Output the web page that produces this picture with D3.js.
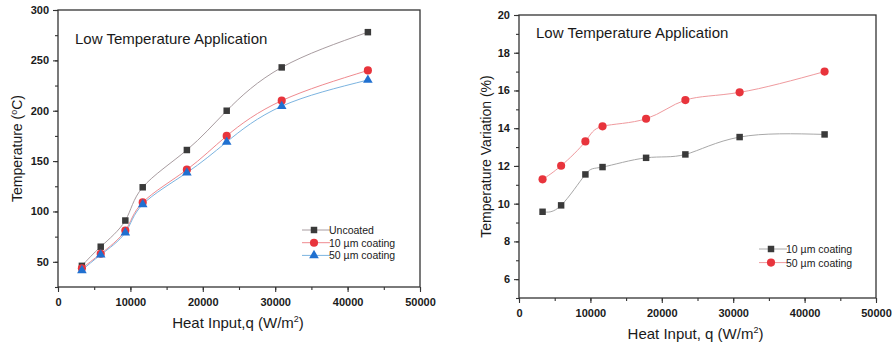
<!DOCTYPE html>
<html lang="en">
<head>
    <meta charset="UTF-8">
    <title>Low Temperature Application</title>
    <script src="https://cdnjs.cloudflare.com/ajax/libs/d3/7.8.5/d3.min.js"></script>
    <style>
        body { margin: 0; background: #fff; }
        text { font-family: "Liberation Sans", Arial, sans-serif; fill: #1a1a1a; }
    </style>
</head>
<body>
<script type="text/javascript">
    // heat input (W/m2), shared by both panels
    var heatInput = [3300, 5900, 9300, 11700, 17800, 23300, 30900, 42800];

    // left panel: temperature (C)
    var tempUncoated = [46, 65, 91, 124, 161, 200, 243, 278];
    var temp10um = [43.5, 58, 81, 109, 141.5, 175, 210, 240];
    var temp50um = [41.5, 57, 79, 107, 138.5, 169, 204.5, 230.5];

    // right panel: temperature variation (%)
    var var10um = [9.57, 9.91, 11.55, 11.94, 12.43, 12.61, 13.53, 13.67];
    var var50um = [11.29, 12.01, 13.3, 14.1, 14.5, 15.49, 15.9, 17.0];

    var xTicks = [0, 10000, 20000, 30000, 40000, 50000];
    var leftYTicks = [50, 100, 150, 200, 250, 300];
    var rightYTicks = [6, 8, 10, 12, 14, 16, 18, 20];

    var svg = d3.select("body").append("svg")
            .attr("width", 892)
            .attr("height", 345);

    function panel(cfg) {
        var g = svg.append("g");
        var x = d3.scaleLinear().domain([0, 50000]).range([cfg.left, cfg.right]);
        var y = d3.scaleLinear().domain(cfg.yDomain).range([cfg.bottom, cfg.top]);

        // minor ticks
        g.append("g").attr("transform", "translate(0," + cfg.bottom + ")")
                .call(d3.axisBottom(x).tickValues(d3.range(0, 50001, 5000)).tickSize(3).tickFormat(""))
                .call(function(a) { a.select(".domain").remove(); });
        g.append("g").attr("transform", "translate(" + cfg.left + ",0)")
                .call(d3.axisLeft(y).tickValues(cfg.yMinor).tickSize(3).tickFormat(""))
                .call(function(a) { a.select(".domain").remove(); });

        // major ticks + labels
        var xa = g.append("g").attr("transform", "translate(0," + cfg.bottom + ")")
                .call(d3.axisBottom(x).tickValues(xTicks).tickSize(5).tickPadding(6).tickFormat(d3.format("d")));
        var ya = g.append("g").attr("transform", "translate(" + cfg.left + ",0)")
                .call(d3.axisLeft(y).tickValues(cfg.yTicks).tickSize(5).tickPadding(4).tickFormat(d3.format("d")));
        g.selectAll(".tick line").attr("stroke", "#333").attr("stroke-width", 1.1);
        g.selectAll(".tick text").style("font-size", "11px").style("font-weight", "bold")
                .style("font-family", "'Liberation Sans', Arial, sans-serif").attr("fill", "#222");
        xa.select(".domain").remove();
        ya.select(".domain").remove();

        // frame
        g.append("rect")
                .attr("x", cfg.left).attr("y", cfg.top)
                .attr("width", cfg.right - cfg.left).attr("height", cfg.bottom - cfg.top)
                .attr("fill", "none").attr("stroke", "#333").attr("stroke-width", 1.3);

        // annotation
        g.append("text")
                .attr("x", cfg.left + cfg.noteDx).attr("y", cfg.top + cfg.noteDy)
                .style("font-size", "15px")
                .text("Low Temperature Application");

        // axis titles
        var xt = g.append("text")
                .attr("x", (cfg.left + cfg.right) / 2 + cfg.xTitleDx).attr("y", cfg.xTitleY)
                .attr("text-anchor", "middle").style("font-size", "15px");
        xt.append("tspan").text(cfg.xTitle);
        xt.append("tspan").attr("dy", -6).style("font-size", "9px").text("2");
        xt.append("tspan").attr("dy", 6).text(")");

        var yt = g.append("text")
                .attr("transform", "translate(" + cfg.yTitleX + "," + ((cfg.top + cfg.bottom) / 2) + ") rotate(-90)")
                .attr("text-anchor", "middle").style("font-size", "14px");
        cfg.yTitle(yt);

        var line = d3.line()
                .x(function(d, i) { return x(heatInput[i]); })
                .y(function(d) { return y(d); })
                .curve(d3.curveNatural);

        cfg.series.forEach(function(s) {
            g.append("path").datum(s.values)
                    .attr("d", line)
                    .attr("fill", "none")
                    .attr("stroke", s.line)
                    .attr("stroke-width", 1);
        });
        cfg.series.forEach(function(s) {
            g.selectAll(null).data(s.values).enter()
                    .append("path")
                    .attr("transform", function(d, i) { return "translate(" + x(heatInput[i]) + "," + y(d) + ")"; })
                    .attr("d", d3.symbol().type(s.symbol).size(s.size))
                    .attr("fill", s.color);
        });

        // legend
        cfg.series.forEach(function(s, i) {
            var ly = cfg.legendY + i * cfg.legendStep;
            g.append("line")
                    .attr("x1", cfg.legendX).attr("x2", cfg.legendX + 28)
                    .attr("y1", ly).attr("y2", ly)
                    .attr("stroke", s.line).attr("stroke-width", 1);
            g.append("path")
                    .attr("transform", "translate(" + (cfg.legendX + 12) + "," + ly + ")")
                    .attr("d", d3.symbol().type(s.symbol).size(s.size))
                    .attr("fill", s.color);
            g.append("text")
                    .attr("x", cfg.legendX + 27).attr("y", ly + 4)
                    .style("font-size", "10.5px").attr("fill", "#333")
                    .text(s.name);
        });
    }

    panel({
        left: 58, right: 420, top: 10, bottom: 287,
        yDomain: [25, 300],
        yTicks: leftYTicks,
        yMinor: d3.range(25, 301, 25),
        noteDx: 17, noteDy: 34,
        xTitle: "Heat Input,q (W/m", xTitleDx: -1, xTitleY: 328,
        yTitleX: 22,
        yTitle: function(t) {
            t.append("tspan").text("Temperature (");
            t.append("tspan").attr("dy", -5).style("font-size", "9px").text("o");
            t.append("tspan").attr("dy", 5).text("C)");
        },
        legendX: 302, legendY: 230, legendStep: 12.7,
        series: [
            {name: "Uncoated", values: tempUncoated, color: "#3a3a3a", line: "#a89ca0", symbol: d3.symbolSquare, size: 42},
            {name: "10 \u00b5m coating", values: temp10um, color: "#e8343c", line: "#ef8a8f", symbol: d3.symbolCircle, size: 52},
            {name: "50 \u00b5m coating", values: temp50um, color: "#2070d0", line: "#7cb4e0", symbol: d3.symbolTriangle, size: 40}
        ]
    });

    panel({
        left: 519, right: 876, top: 15, bottom: 298,
        yDomain: [5, 20],
        yTicks: rightYTicks,
        yMinor: d3.range(5, 20.1, 1),
        noteDx: 17, noteDy: 23,
        xTitle: "Heat Input, q (W/m", xTitleDx: -2, xTitleY: 339,
        yTitleX: 491,
        yTitle: function(t) { t.text("Temperature Variation (%)"); },
        legendX: 759, legendY: 249, legendStep: 13.6,
        series: [
            {name: "10 \u00b5m coating", values: var10um, color: "#3a3a3a", line: "#a8a8a8", symbol: d3.symbolSquare, size: 42},
            {name: "50 \u00b5m coating", values: var50um, color: "#e8343c", line: "#ef9a9e", symbol: d3.symbolCircle, size: 52}
        ]
    });
</script>
</body>
</html>
